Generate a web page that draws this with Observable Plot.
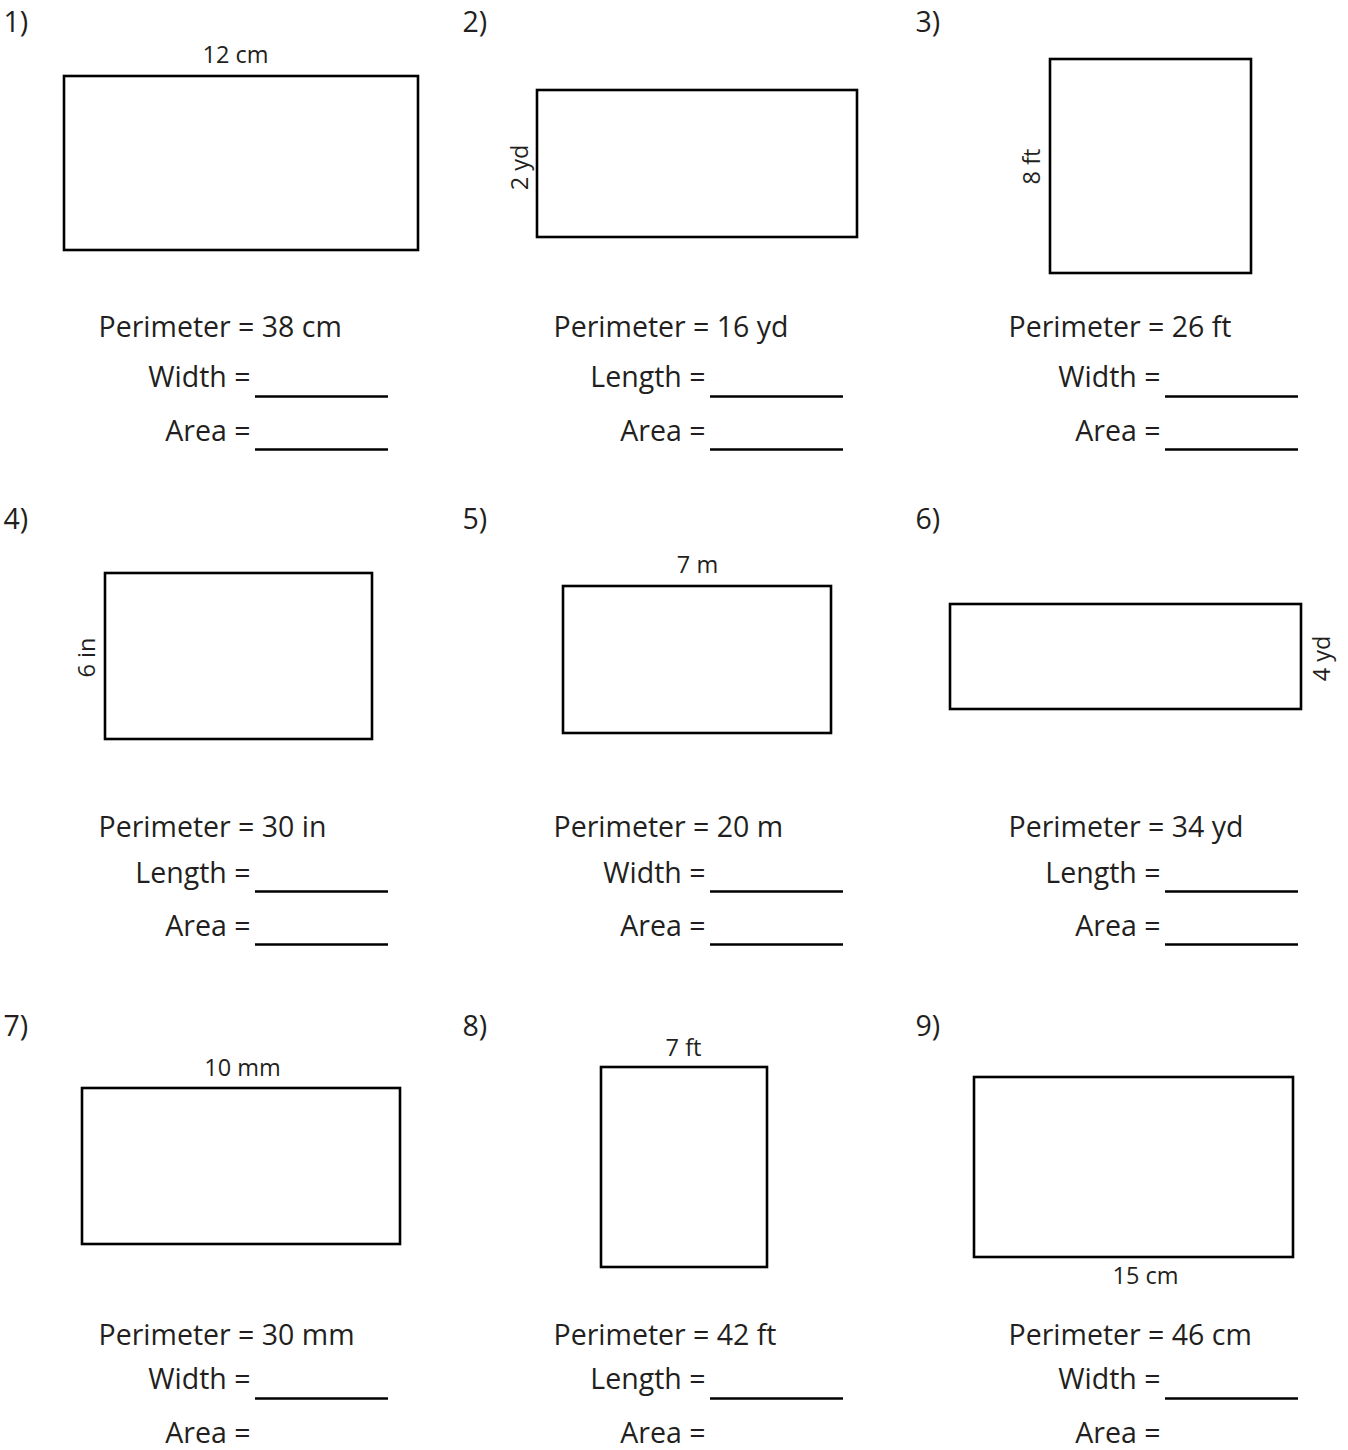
<!DOCTYPE html>
<html>
<head>
<meta charset="utf-8">
<script src="https://cdn.jsdelivr.net/npm/d3@7"></script>
<script src="https://cdn.jsdelivr.net/npm/@observablehq/plot@0.6"></script>
<style>
  html, body { margin: 0; padding: 0; background: #fff; }
  #chart svg { display: block; }
</style>
</head>
<body>
<div id="chart"></div>
<script>
// ---- worksheet content (data) ----
const problemNumbers = ["1)", "2)", "3)", "4)", "5)", "6)", "7)", "8)", "9)"];
const givenSides     = ["12 cm", "2 yd", "8 ft", "6 in", "7 m", "4 yd", "10 mm", "7 ft", "15 cm"];
const perimeters     = [38, 16, 26, 30, 20, 34, 30, 42, 46];
const units          = ["cm", "yd", "ft", "in", "m", "yd", "mm", "ft", "cm"];
const unknownSides   = ["Width", "Length", "Width", "Length", "Width", "Length", "Width", "Length", "Width"];

// ---- page layout (pixel positions on the sheet) ----
const colNumberX = [3, 462, 915];
const colTextX   = [98, 553, 1008];
const colEqX     = [250, 705, 1160];
const colLineX1  = [255, 710, 1165];
const colLineX2  = [388, 843, 1298];
const rowNumberY = [22, 519, 1026];
const rowPerimY  = [327, 827, 1335];
const rowSideY   = [377, 873, 1379];
const rowAreaY   = [431, 926, 1433];
const rowLine1Y  = [396, 891, 1398];
const rowLine2Y  = [449, 944, 1452];

const rectX1 = [64, 537, 1050, 105, 563, 950, 82, 601, 974];
const rectX2 = [418, 857, 1251, 372, 831, 1301, 400, 767, 1293];
const rectY1 = [76, 90, 59, 573, 586, 604, 1088, 1067, 1077];
const rectY2 = [250, 237, 273, 739, 733, 709, 1244, 1267, 1257];
const labelX = [235, 520, 1032, 87, 697, 1322, 242, 683, 1145];
const labelY = [55, 167, 166, 657, 565, 658, 1068, 1048, 1276];
const labelRotate = [0, -90, -90, -90, 0, -90, 0, 0, 0];

const problems = problemNumbers.map((num, i) => {
  const col = i % 3, row = Math.floor(i / 3);
  return {
    num, side: givenSides[i],
    perimText: `Perimeter = ${perimeters[i]} ${units[i]}`,
    unknownText: `${unknownSides[i]} =`,
    areaText: "Area =",
    nx: colNumberX[col], ny: rowNumberY[row],
    tx: colTextX[col], ex: colEqX[col], lx1: colLineX1[col], lx2: colLineX2[col],
    py: rowPerimY[row], sy: rowSideY[row], ay: rowAreaY[row],
    l1: rowLine1Y[row], l2: rowLine2Y[row],
    x1: rectX1[i], x2: rectX2[i], y1: rectY1[i], y2: rectY2[i],
    lx: labelX[i], ly: labelY[i], rot: labelRotate[i]
  };
});
const blanks = problems.flatMap(p => [
  {x1: p.lx1, x2: p.lx2, y: p.l1},
  {x1: p.lx1, x2: p.lx2, y: p.l2}
]);

const ink = "#231f20";
const bodySize = 28.5;

const chart = Plot.plot({
  width: 1348,
  height: 1450,
  margin: 0,
  x: {type: "identity", axis: null},
  y: {type: "identity", axis: null},
  style: {fontFamily: "'Open Sans', sans-serif", background: "#fff", color: ink},
  marks: [
    Plot.rect(problems, {x1: "x1", x2: "x2", y1: "y1", y2: "y2", fill: "none", stroke: "#000", strokeWidth: 2.6}),
    Plot.ruleY(blanks, {x1: "x1", x2: "x2", y: "y", stroke: "#000", strokeWidth: 2.6}),
    Plot.text(problems.filter(p => p.rot === 0), {x: "lx", y: "ly", text: "side", fontSize: 23.5, fill: ink, textAnchor: "middle", lineAnchor: "middle"}),
    Plot.text(problems.filter(p => p.rot !== 0), {x: "lx", y: "ly", text: "side", rotate: -90, fontSize: 23.5, fill: ink, textAnchor: "middle", lineAnchor: "middle"}),
    Plot.text(problems, {x: "nx", y: "ny", text: "num", fontSize: bodySize, fill: ink, textAnchor: "start", lineAnchor: "middle"}),
    Plot.text(problems, {x: "tx", y: "py", text: "perimText", fontSize: bodySize, fill: ink, textAnchor: "start", lineAnchor: "middle"}),
    Plot.text(problems, {x: "ex", y: "sy", text: "unknownText", fontSize: bodySize, fill: ink, textAnchor: "end", lineAnchor: "middle"}),
    Plot.text(problems, {x: "ex", y: "ay", text: "areaText", fontSize: bodySize, fill: ink, textAnchor: "end", lineAnchor: "middle"})
  ]
});
document.getElementById("chart").append(chart);
</script>
</body>
</html>
